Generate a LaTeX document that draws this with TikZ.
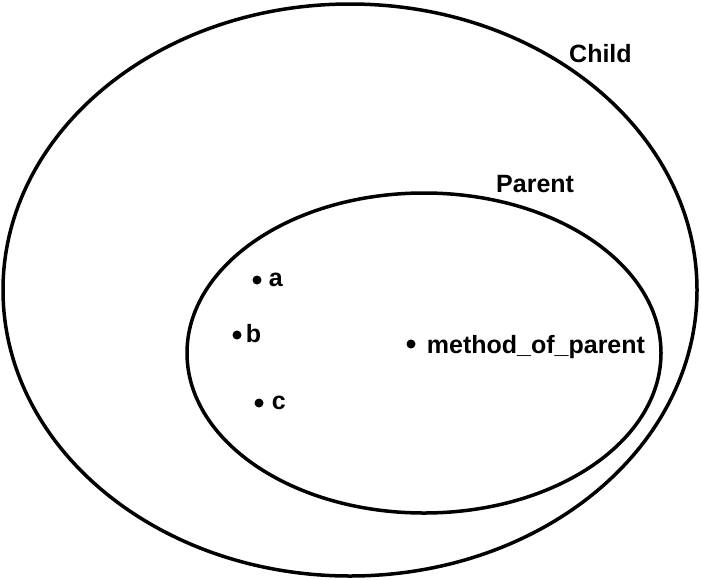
\documentclass[tikz,border=0pt]{standalone}
\usepackage{fontspec}
\setmainfont{Liberation Sans}
\usetikzlibrary{positioning}

\begin{document}
\begin{tikzpicture}[x=1pt, y=-1pt,
    pt/.style={shape=circle, inner sep=0pt, minimum size=9pt, fill=black},
    lbl/.style={inner sep=0pt, font=\fontsize{25}{28}\selectfont\bfseries}]
    \useasboundingbox (0,0) rectangle (701,579);

    \draw[line width=3.5pt] (350,290) ellipse [x radius=347, y radius=286];
    \draw[line width=3.5pt] (424,353) ellipse [x radius=237, y radius=160];

    \node[lbl, anchor=west] (child) at (569,54) {Child};
    \node[lbl, anchor=west] (parent) at (496,184) {Parent};

    \node[pt] (a) at (257,280) {};
    \node[pt] (b) at (237,335) {};
    \node[pt] (c) at (259,403) {};
    \node[pt] (m) at (411,344) {};

    \node[lbl, right=7pt of a] (la) {a};
    \node[lbl, right=4pt of b, yshift=1pt] (lb) {b};
    \node[lbl, right=8pt of c] (lc) {c};
    \node[lbl, right=11pt of m, yshift=-3pt] (lm) {method\_of\_parent};
  \end{tikzpicture}
\end{document}
